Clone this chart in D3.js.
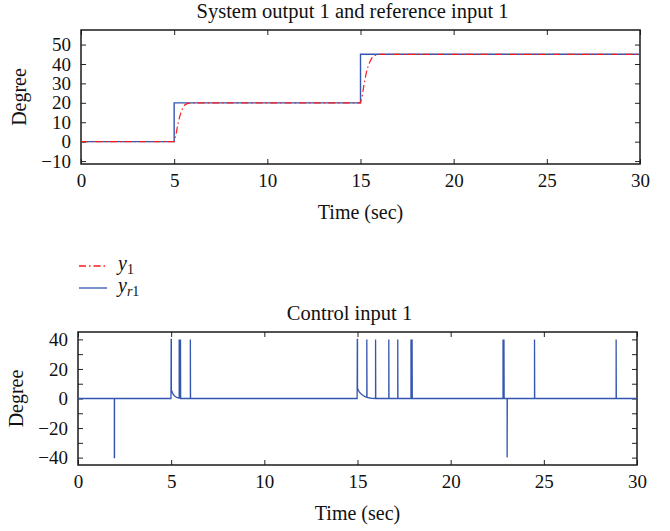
<!DOCTYPE html>
<html>
<head>
<meta charset="utf-8">
<script src="https://cdn.jsdelivr.net/npm/d3@7"></script>
<style>
  body { margin: 0; background: #fff; }
  svg text { font-family: "Liberation Serif", "DejaVu Serif", serif; fill: #111; }
</style>
</head>
<body>
<div id="chart"></div>
<script>
// reference input y_r1 (step signal), [time, degree]
const refInput = [[0, 0], [5, 0], [5, 20], [15, 20], [15, 45], [30, 45]]
// system output y_1, [time, degree]
const sysOutput = [[0, 0], [5, 0], [5.1, 4], [5.2, 9], [5.3, 13], [5.4, 16], [5.5, 18], [5.6, 19.2], [5.8, 19.8], [6, 20],
  [15, 20], [15.1, 24], [15.2, 30], [15.3, 35], [15.4, 38.5], [15.5, 41], [15.6, 43], [15.8, 44.5], [16, 45], [30, 45]]
// control input u_1, [time, degree]
const controlInput = [[0, 0], [1.95, 0], [1.95, -40], [1.96, -40], [1.96, 0],
  [4.99, 0], [5.0, 40], [5.01, 40], [5.01, 6], [5.05, 4.5], [5.1, 3], [5.2, 1.5], [5.3, 0.7], [5.43, 0.2], [5.43, 40], [5.44, 0.2],
  [5.5, 0.1], [5.5, 40], [5.51, 0], [6.03, 0], [6.03, 40], [6.04, 0],
  [14.98, 0], [14.99, 40], [15.0, 40], [15.0, 7], [15.05, 5.5], [15.1, 4.3], [15.2, 3], [15.3, 2], [15.4, 1.3], [15.5, 0.8],
  [15.5, 40], [15.51, 0.8], [15.6, 0.5], [15.7, 0.3], [15.8, 0.1], [15.97, 0], [15.97, 40], [15.98, 0],
  [16.68, 0], [16.68, 40], [16.69, 0], [17.16, 0], [17.16, 40], [17.17, 0],
  [17.87, 0], [17.87, 40], [17.88, 0], [17.93, 0], [17.93, 40], [17.94, 0],
  [22.81, 0], [22.81, 40], [22.82, 0], [22.86, 0], [22.86, 40], [22.87, 0],
  [23.03, 0], [23.03, -40], [23.04, 0], [24.5, 0], [24.5, 40], [24.51, 0],
  [28.88, 0], [28.88, 40], [28.89, 0], [30, 0]]

const xTicks = [0, 5, 10, 15, 20, 25, 30]
const topYTicks = [-10, 0, 10, 20, 30, 40, 50]
const bottomYTicks = [-40, -30, -20, -10, 0, 10, 20, 30, 40]
const bottomYLabels = [-40, -20, 0, 20, 40]

const blue = "#3556b0"
const red = "#ff1a1a"

const svg = d3.select("#chart").append("svg")
  .attr("width", 670)
  .attr("height", 531)

const fmt = d => d < 0 ? "\u2212" + Math.abs(d) : String(d)

// draws a boxed matlab-style panel, returns the scales
function panel(opts) {
  const x = d3.scaleLinear().domain([0, 30]).range([opts.left, opts.right])
  const y = d3.scaleLinear().domain(opts.yDomain).range([opts.bottom, opts.top])
  const g = svg.append("g")
  const cx = (opts.left + opts.right) / 2

  // inward ticks on all four sides
  g.append("g").attr("transform", "translate(0," + opts.bottom + ")")
    .call(d3.axisBottom(x).tickValues(xTicks).tickSize(-5).tickPadding(10).tickFormat(fmt))
  g.append("g").attr("transform", "translate(0," + opts.top + ")")
    .call(d3.axisTop(x).tickValues(xTicks).tickSize(-5).tickFormat(""))
  g.append("g").attr("transform", "translate(" + opts.left + ",0)")
    .call(d3.axisLeft(y).tickValues(opts.yTicks).tickSize(-5).tickPadding(10)
      .tickFormat(d => opts.yLabels.includes(d) ? fmt(d) : ""))
  g.append("g").attr("transform", "translate(" + opts.right + ",0)")
    .call(d3.axisRight(y).tickValues(opts.yTicks).tickSize(-5).tickFormat(""))

  g.selectAll(".domain").remove()
  g.selectAll(".tick line").attr("stroke", "#222").attr("stroke-width", 1)
  g.selectAll(".tick text").attr("font-size", 19).style("font-family", "Liberation Serif, serif").attr("fill", "#111")

  g.append("rect")
    .attr("x", opts.left).attr("y", opts.top)
    .attr("width", opts.right - opts.left).attr("height", opts.bottom - opts.top)
    .attr("fill", "none").attr("stroke", "#1a1a1a").attr("stroke-width", 1.5)

  g.append("text").attr("x", cx - 8).attr("y", opts.top - 12)
    .attr("text-anchor", "middle").attr("font-size", 20.5).text(opts.title)
  g.append("text").attr("x", cx).attr("y", opts.bottom + 55)
    .attr("text-anchor", "middle").attr("font-size", 20).text("Time (sec)")
  g.append("text")
    .attr("transform", "translate(" + (opts.left - 55) + "," + ((opts.top + opts.bottom) / 2) + ") rotate(-90)")
    .attr("text-anchor", "middle").attr("font-size", 20).text("Degree")
  return { x, y, g }
}

const topPanel = panel({ left: 81, right: 640, top: 30, bottom: 164, yDomain: [-11.5, 57.5],
  yTicks: topYTicks, yLabels: topYTicks, title: "System output 1 and reference input 1" })
const botPanel = panel({ left: 78, right: 637, top: 332, bottom: 465, yDomain: [-45, 45],
  yTicks: bottomYTicks, yLabels: bottomYLabels, title: "Control input 1" })

const lineTop = d3.line().x(d => topPanel.x(d[0])).y(d => topPanel.y(d[1]))
topPanel.g.append("path").datum(refInput)
  .attr("d", lineTop).attr("fill", "none").attr("stroke", blue).attr("stroke-width", 1.4)
topPanel.g.append("path").datum(sysOutput)
  .attr("d", lineTop).attr("fill", "none").attr("stroke", red).attr("stroke-width", 1.2)
  .attr("stroke-dasharray", "7,3,1.5,3")

const lineBot = d3.line().x(d => botPanel.x(d[0])).y(d => botPanel.y(d[1]))
botPanel.g.append("path").datum(controlInput)
  .attr("d", lineBot).attr("fill", "none").attr("stroke", blue).attr("stroke-width", 1.3)

// legend
const legend = svg.append("g")
const items = [{ sub: "1", color: red, dash: "7,3,1.5,3", y: 266 }, { sub: "r1", color: blue, dash: null, y: 288 }]
items.forEach(it => {
  legend.append("line").attr("x1", 79).attr("x2", 107).attr("y1", it.y).attr("y2", it.y)
    .attr("stroke", it.color).attr("stroke-width", 1.3).attr("stroke-dasharray", it.dash)
  const t = legend.append("text").attr("x", 118).attr("y", it.y + 4).attr("font-size", 20)
  t.append("tspan").attr("font-style", "italic").text("y")
  const s = t.append("tspan").attr("font-size", 14).attr("dy", 4)
  if (it.sub === "r1") {
    s.append("tspan").attr("font-style", "italic").text("r")
    s.append("tspan").text("1")
  } else {
    s.text(it.sub)
  }
})
</script>
</body>
</html>
